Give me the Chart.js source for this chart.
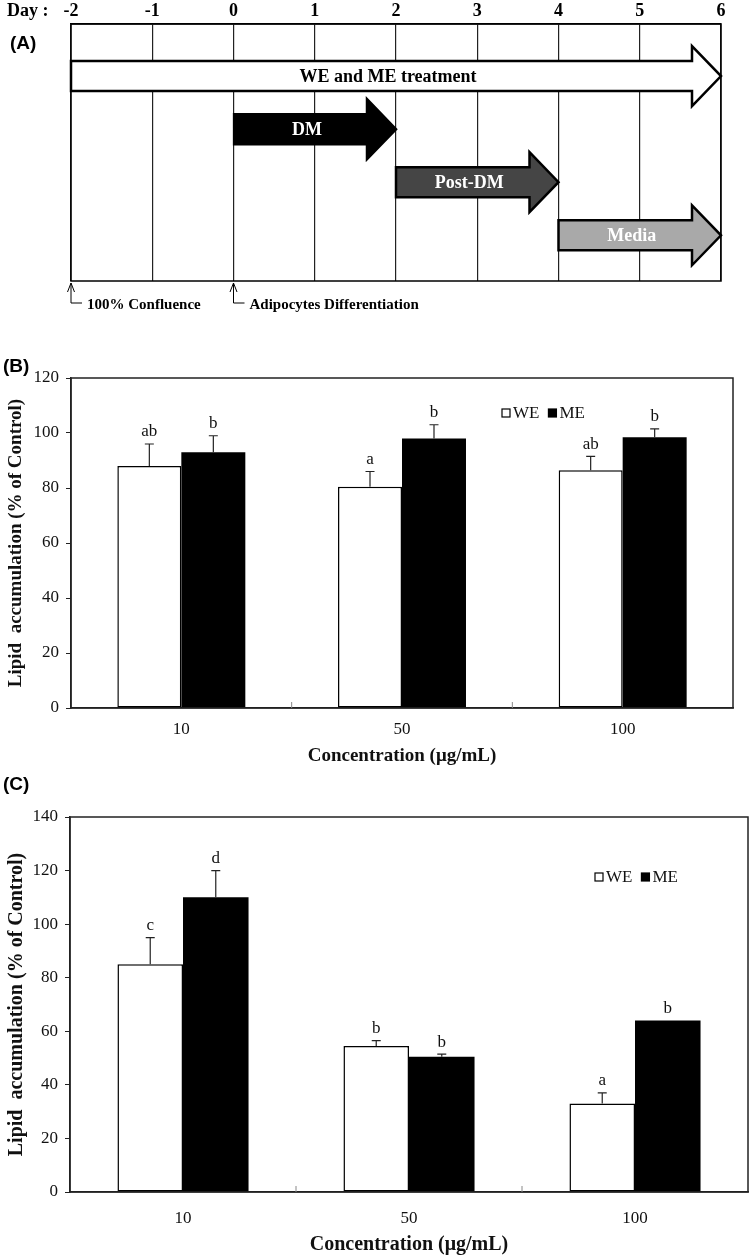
<!DOCTYPE html>
<html>
<head>
<meta charset="utf-8">
<script src="https://cdn.jsdelivr.net/npm/chart.js@4.4.1/dist/chart.umd.min.js"></script>
<style>
  html, body { margin: 0; padding: 0; background: #fff; }
  body { width: 750px; height: 1260px; position: relative; overflow: hidden; }
  canvas { position: absolute; left: 0; }
</style>
</head>
<body>
<canvas id="chartA" width="750" height="320" style="top:0px"></canvas>
<canvas id="chartB" width="750" height="430" style="top:340px"></canvas>
<canvas id="chartC" width="750" height="495" style="top:765px"></canvas>
<script>
// ---- data ----
// Panel A: treatment schedule
const days = [-2, -1, 0, 1, 2, 3, 4, 5, 6];
const phases = ["WE and ME treatment", "DM", "Post-DM", "Media"];
const phaseStart = [-2, 0, 2, 4];
const phaseEnd = [6, 2, 4, 6];
const marks = [-2, 0];
const markLabels = ["100% Confluence", "Adipocytes Differentiation"];

// Panels B and C: lipid accumulation
const concentrations = ["10", "50", "100"];
const seriesNames = ["WE", "ME"];

const weB = [88, 80.5, 86.5];
const weErrB = [8, 5.5, 5];
const weSigB = ["ab", "a", "ab"];
const meB = [93, 98, 98.5];
const meErrB = [6, 5, 3];
const meSigB = ["b", "b", "b"];

const weC = [85, 54.5, 33];
const weErrC = [10, 2, 4];
const weSigC = ["c", "b", "a"];
const meC = [110, 50.5, 64];
const meErrC = [10, 1, 0];
const meSigC = ["d", "b", "b"];

const SERIF = "'Liberation Serif', 'Times New Roman', serif";
const SANS = "'Liberation Sans', Arial, sans-serif";
Chart.defaults.font.family = SERIF;
Chart.defaults.color = "#111";
Chart.defaults.animation = false;

// Phase arrow colours
const phaseFill = ["#ffffff", "#000000", "#454545", "#a9a9a9"];
const phaseInk = ["#000000", "#ffffff", "#ffffff", "#ffffff"];

// Panel letter like (A), (B), (C)
const panelLetter = {
  id: "panelLetter",
  afterDraw(chart, args, opts) {
    const ctx = chart.ctx;
    ctx.save();
    ctx.font = "bold 19px " + SANS;
    ctx.fillStyle = "#000";
    ctx.textAlign = "left";
    ctx.textBaseline = "middle";
    ctx.fillText(opts.text, opts.x, opts.y);
    ctx.restore();
  }
};

// Arrows for the schedule (drawn from the floating bar elements)
const arrows = {
  id: "arrows",
  afterDatasetsDraw(chart) {
    const ctx = chart.ctx;
    const meta = chart.getDatasetMeta(0);
    ctx.save();
    meta.data.forEach((bar, i) => {
      const x0 = bar.base, x1 = bar.x, yc = bar.y;
      const body = 15, head = 30, headLen = 29;
      ctx.beginPath();
      ctx.moveTo(x0, yc - body);
      ctx.lineTo(x1 - headLen, yc - body);
      ctx.lineTo(x1 - headLen, yc - head);
      ctx.lineTo(x1, yc);
      ctx.lineTo(x1 - headLen, yc + head);
      ctx.lineTo(x1 - headLen, yc + body);
      ctx.lineTo(x0, yc + body);
      ctx.closePath();
      ctx.fillStyle = phaseFill[i];
      ctx.fill();
      ctx.lineWidth = 2.5;
      ctx.lineJoin = "miter";
      ctx.strokeStyle = "#000";
      ctx.stroke();

      ctx.font = "bold 18px " + SERIF;
      ctx.fillStyle = phaseInk[i];
      ctx.textAlign = "center";
      ctx.textBaseline = "middle";
      ctx.fillText(phases[i], (x0 + x1) / 2 - 8, yc + 1);
    });
    ctx.restore();
  },
  afterDraw(chart) {
    const ctx = chart.ctx;
    const area = chart.chartArea;
    const xs = chart.scales.x;
    ctx.save();
    // frame
    ctx.strokeStyle = "#000";
    ctx.lineWidth = 1.5;
    ctx.strokeRect(area.left, area.top, area.right - area.left, area.bottom - area.top);

    // "Day :" caption
    ctx.font = "bold 18px " + SERIF;
    ctx.fillStyle = "#000";
    ctx.textAlign = "left";
    ctx.textBaseline = "middle";
    ctx.fillText("Day :", 7, 11);

    // bracket markers under the grid
    const b = area.bottom;
    ctx.lineWidth = 1;
    ctx.font = "bold 15px " + SERIF;
    marks.forEach((d, i) => {
      const x = xs.getPixelForValue(d);
      ctx.beginPath();
      ctx.moveTo(x, b + 2);
      ctx.lineTo(x, b + 22);
      ctx.lineTo(x + 11, b + 22);
      ctx.moveTo(x - 3.5, b + 11);
      ctx.lineTo(x, b + 2);
      ctx.lineTo(x + 3.5, b + 11);
      ctx.stroke();
      ctx.fillText(markLabels[i], x + 16, b + 24);
    });
    ctx.restore();
  }
};

new Chart(document.getElementById("chartA"), {
  type: "bar",
  data: {
    datasets: [{
      label: "schedule",
      data: phases.map((p, i) => ({ x: [phaseStart[i], phaseEnd[i]], y: i })),
      backgroundColor: "rgba(0,0,0,0)",
      borderWidth: 0,
      barThickness: 30
    }]
  },
  options: {
    responsive: false,
    indexAxis: "y",
    layout: { padding: { left: 71, right: 29, top: 0, bottom: 39 } },
    plugins: {
      legend: { display: false },
      tooltip: { enabled: false },
      panelLetter: { text: "(A)", x: 10, y: 44 }
    },
    scales: {
      x: {
        type: "linear",
        position: "top",
        min: days[0],
        max: days[days.length - 1],
        afterBuildTicks: scale => { scale.ticks = days.map(v => ({ value: v })); },
        afterFit: scale => { scale.height = 24; },
        ticks: { font: { size: 18, weight: "bold" }, color: "#000", padding: 2, autoSkip: false },
        grid: { color: "#222", lineWidth: 1.2, drawTicks: false },
        border: { display: true, color: "#000", width: 1.5 }
      },
      y: {
        type: "linear",
        display: false,
        reverse: true,
        min: -0.74,
        max: 3.62
      }
    }
  },
  plugins: [arrows, panelLetter]
});

// Error bars and significance letters
const errorBars = {
  id: "errorBars",
  afterDatasetsDraw(chart, args, opts) {
    const ctx = chart.ctx;
    const ys = chart.scales.y;
    ctx.save();
    chart.data.datasets.forEach((ds, di) => {
      chart.getDatasetMeta(di).data.forEach((bar, i) => {
        const top = ys.getPixelForValue(ds.data[i] + ds.errors[i]);
        ctx.strokeStyle = "#222";
        ctx.lineWidth = 1.2;
        if (ds.errors[i] > 0) {
          ctx.beginPath();
          ctx.moveTo(bar.x, bar.y);
          ctx.lineTo(bar.x, top);
          ctx.moveTo(bar.x - 4.5, top);
          ctx.lineTo(bar.x + 4.5, top);
          ctx.stroke();
        }
        ctx.font = "17px " + SERIF;
        ctx.fillStyle = "#111";
        ctx.textAlign = "center";
        ctx.textBaseline = "middle";
        ctx.fillText(ds.letters[i], bar.x, top - opts.gap);
      });
    });
    ctx.restore();
  }
};

// Frame, category separators and in-plot legend
const frame = {
  id: "frame",
  afterDatasetsDraw(chart, args, opts) {
    const ctx = chart.ctx;
    const a = chart.chartArea;
    const xs = chart.scales.x;
    ctx.save();
    ctx.strokeStyle = "#222";
    ctx.lineWidth = 1.5;
    ctx.strokeRect(a.left, a.top, a.right - a.left, a.bottom - a.top);

    // small separator ticks between categories
    ctx.strokeStyle = "#888";
    ctx.lineWidth = 1;
    for (let i = 1; i < xs.ticks.length; i++) {
      const x = (xs.getPixelForValue(i - 1) + xs.getPixelForValue(i)) / 2;
      ctx.beginPath();
      ctx.moveTo(x, a.bottom);
      ctx.lineTo(x, a.bottom - 6);
      ctx.stroke();
    }

    // legend
    ctx.font = "17px " + SERIF;
    ctx.textAlign = "left";
    ctx.textBaseline = "middle";
    let x = opts.x;
    chart.data.datasets.forEach(ds => {
      ctx.fillStyle = ds.backgroundColor;
      ctx.strokeStyle = "#000";
      ctx.lineWidth = 1.2;
      ctx.fillRect(x, opts.y - 4, 8, 8);
      ctx.strokeRect(x, opts.y - 4, 8, 8);
      ctx.fillStyle = "#111";
      ctx.fillText(ds.label, x + 11, opts.y + 1);
      x += 11 + ctx.measureText(ds.label).width + 9;
    });
    ctx.restore();
  }
};

function lipidChart(id, cfg) {
  return new Chart(document.getElementById(id), {
    type: "bar",
    data: {
      labels: concentrations,
      datasets: [
        {
          label: seriesNames[0], data: cfg.we, errors: cfg.weErr, letters: cfg.weSig,
          backgroundColor: "#ffffff", borderColor: "#000", borderWidth: 1.5, borderSkipped: false
        },
        {
          label: seriesNames[1], data: cfg.me, errors: cfg.meErr, letters: cfg.meSig,
          backgroundColor: "#000000", borderColor: "#000", borderWidth: 0
        }
      ]
    },
    options: {
      responsive: false,
      categoryPercentage: 0.58,
      barPercentage: 1,
      layout: { padding: { left: 0, right: cfg.padRight, top: cfg.padTop, bottom: 0 } },
      plugins: {
        legend: { display: false },
        tooltip: { enabled: false },
        errorBars: { gap: 12 },
        frame: { x: cfg.legendX, y: cfg.legendY },
        panelLetter: { text: cfg.letter, x: 3, y: cfg.letterY }
      },
      scales: {
        x: {
          afterFit: scale => { scale.height = cfg.xHeight; },
          ticks: { font: { size: 17 }, color: "#111", padding: cfg.xTickPad },
          grid: { display: false, drawTicks: false },
          border: { display: true, color: "#222", width: 1.5 },
          title: {
            display: true,
            text: "Concentration (\u03bcg/mL)",
            font: { size: cfg.titleSize, weight: "bold" },
            color: "#111",
            padding: { top: 0, bottom: cfg.xTitlePad }
          }
        },
        y: {
          min: 0,
          max: cfg.yMax,
          afterFit: scale => { scale.width = cfg.yWidth; },
          ticks: { stepSize: 20, font: { size: 17 }, color: "#111", padding: 7 },
          grid: { drawOnChartArea: false, drawTicks: true, tickLength: 5, color: "#222" },
          border: { display: true, color: "#222", width: 1.5 },
          title: {
            display: true,
            text: "Lipid  accumulation (% of Control)",
            font: { size: cfg.titleSize, weight: "bold" },
            color: "#111",
            padding: { top: 5, bottom: 0 }
          }
        }
      }
    },
    plugins: [errorBars, frame, panelLetter]
  });
}

lipidChart("chartB", {
  we: weB, weErr: weErrB, weSig: weSigB,
  me: meB, meErr: meErrB, meSig: meSigB,
  yMax: 120, letter: "(B)", letterY: 27,
  padTop: 38, padRight: 17, xHeight: 62, yWidth: 71,
  xTickPad: 11, xTitlePad: 3, titleSize: 19,
  legendX: 502, legendY: 73
});

lipidChart("chartC", {
  we: weC, weErr: weErrC, weSig: weSigC,
  me: meC, meErr: meErrC, meSig: meSigC,
  yMax: 140, letter: "(C)", letterY: 20,
  padTop: 52, padRight: 2, xHeight: 68, yWidth: 70,
  xTickPad: 16, xTitlePad: 3, titleSize: 20,
  legendX: 595, legendY: 112
});
</script>
</body>
</html>
